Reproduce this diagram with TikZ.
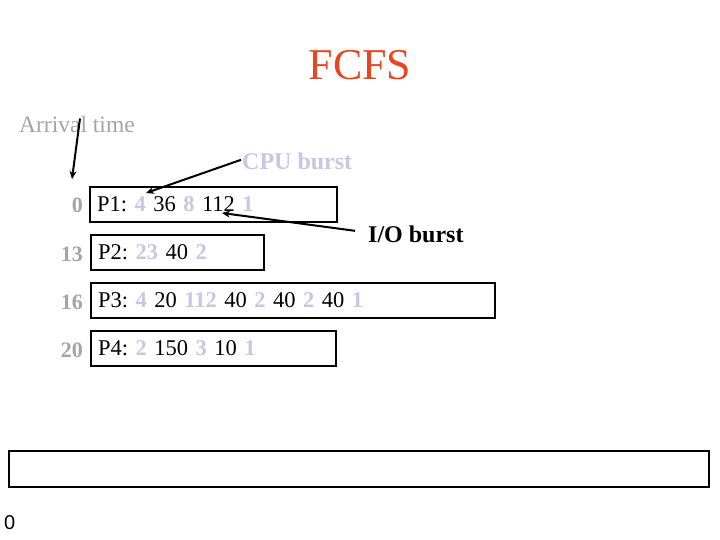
\documentclass[tikz,border=0pt]{standalone}
\usepackage{fontspec}
\setmainfont{Liberation Serif}
\newfontfamily\zerofont{Liberation Sans}
\usetikzlibrary{arrows.meta}
\definecolor{titlered}{HTML}{E8461E}
\definecolor{lgray}{HTML}{A4A4A4}
\definecolor{lav}{HTML}{C6C6E6}
\newcommand{\lv}[1]{\textcolor{lav}{\textbf{#1}}}
\frenchspacing
\tikzset{
  procbox/.style={draw=black, line width=2pt, anchor=north west, minimum height=35pt, inner xsep=7pt, inner ysep=0pt, align=left, font=\fontsize{22.5}{26}\selectfont},
  arr/.style={line width=2pt, -{Stealth[length=8pt,width=7pt]}},
  atime/.style={anchor=base east, text=lgray, font=\fontsize{22}{24}\selectfont\bfseries, inner sep=0pt}
}
\begin{document}
\begin{tikzpicture}[x=1pt,y=-1pt]
\useasboundingbox (0,0) rectangle (720,540);
\node[text=titlered, font=\fontsize{44}{48}\selectfont, anchor=base] (title) at (360,80) {FCFS};
\node[text=lgray, font=\fontsize{23.5}{26}\selectfont, anchor=base west, inner sep=0pt] (arrival) at (19,133) {Arrival time};
\node[text=lav, font=\fontsize{24}{26}\selectfont\bfseries, anchor=base west, inner sep=0pt] (cpu) at (242,170) {CPU burst};
\node[text=black, font=\fontsize{24}{26}\selectfont\bfseries, anchor=base west, inner sep=0pt] (io) at (368,243) {I/O burst};

\node[procbox, minimum width=247pt, text width=233pt] (p1) at (89,186) {P1: \lv{4} 36 \lv{8} 112 \lv{1}};
\node[procbox, minimum width=173pt, text width=159pt] (p2) at (90,234) {P2: \lv{23} 40 \lv{2}};
\node[procbox, minimum width=404pt, text width=390pt] (p3) at (90,282) {P3: \lv{4} 20 \lv{112} 40 \lv{2} 40 \lv{2} 40 \lv{1}};
\node[procbox, minimum width=245pt, text width=231pt] (p4) at (90,330) {P4: \lv{2} 150 \lv{3} 10 \lv{1}};

\node[atime] (a1) at (83,213) {0};
\node[atime] (a2) at (83,261) {13};
\node[atime] (a3) at (83,309) {16};
\node[atime] (a4) at (83,357) {20};

\node[draw=black, line width=2pt, anchor=north west, minimum width=700pt, minimum height=36pt, inner sep=0pt] (gantt) at (8,450) {};
\node[anchor=base west, inner sep=0pt, font=\zerofont\fontsize{20}{22}\selectfont] (g0) at (4,529) {0};

\coordinate (arrTip) at (72,179);
\coordinate (cpuTip) at (146,193);
\coordinate (ioTip) at (222,213);
\draw[arr] (arrival.north west) ++(61,2) -- (arrTip);
\draw[arr] (cpu.west) ++(-1,-2) -- (cpuTip);
\draw[arr] (io.west) ++(-13,-4) -- (ioTip);
\end{tikzpicture}
\end{document}
